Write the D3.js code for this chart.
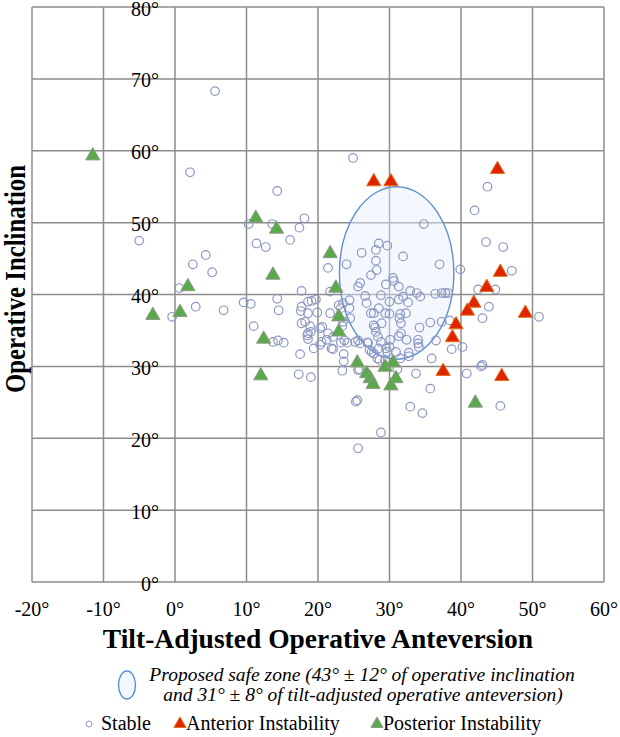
<!DOCTYPE html>
<html>
<head>
<meta charset="utf-8">
<script src="https://cdn.jsdelivr.net/npm/d3@7"></script>
<style>
  body { margin: 0; background: #fff; }
  svg text { font-family: "Liberation Serif", "Times New Roman", serif; fill: #000; }
</style>
</head>
<body>
<div id="chart"></div>
<script>
// [tilt-adjusted anteversion, operative inclination]
const stable = [
  [5.6,68.3],[2.1,57.0],[-5.0,47.5],[24.9,59.0],[2.5,44.2],[0.6,40.9],[-0.4,36.9],[2.9,38.3],
  [14.3,54.4],[18.1,50.6],[17.4,49.3],[13.6,49.8],[10.3,49.8],[16.1,47.6],[11.4,47.1],[12.7,46.6],
  [4.3,45.5],[5.2,43.1],[6.8,37.8],[9.6,38.9],[10.6,38.7],[11.0,35.6],[14.3,39.4],[14.5,37.8],
  [13.7,33.4],[14.4,33.6],[15.2,33.3],[17.7,40.5],[17.7,38.3],[18.6,39.0],[19.1,39.1],[19.7,39.3],
  [17.6,37.7],[18.6,37.4],[19.9,37.5],[17.7,36.0],[18.9,35.6],[18.2,36.2],[18.6,34.6],[19.0,34.8],
  [18.5,34.3],[18.6,33.8],[20.6,35.5],[20.3,35.3],[21.4,34.6],[21.2,33.7],[20.5,33.4],[20.3,33.0],
  [19.4,32.5],[17.5,31.7],[22.1,32.4],[21.9,32.5],[22.1,34.1],[17.3,28.9],[19.0,28.5],[21.7,37.4],
  [21.4,43.7],[24.0,44.2],[21.7,40.4],[23.5,38.8],[23.2,38.1],[24.4,39.2],[24.4,38.1],[24.5,36.7],
  [23.5,36.2],[23.4,35.6],[23.7,33.6],[23.2,33.3],[24.1,33.3],[23.6,31.7],[23.6,30.7],[23.4,29.4],
  [25.6,29.5],[26.1,45.8],[28.5,47.1],[29.7,46.8],[28.1,46.2],[28.1,44.7],[28.2,43.4],[27.4,42.7],
  [30.5,42.3],[30.6,41.9],[29.5,41.4],[25.9,41.6],[25.6,41.1],[31.3,41.1],[31.9,45.3],[34.8,49.8],
  [37.0,44.2],[39.9,43.5],[32.9,40.5],[33.8,40.2],[34.3,39.7],[28.8,39.9],[31.9,39.7],[26.6,39.8],
  [26.8,38.8],[30.0,39.0],[31.3,39.3],[32.6,38.9],[36.4,40.1],[37.3,40.2],[37.8,40.2],[38.2,40.2],
  [28.5,38.1],[27.8,37.4],[27.4,37.4],[29.4,37.4],[31.5,37.3],[32.3,37.4],[31.4,36.7],[28.9,36.0],
  [27.8,35.7],[28.1,34.8],[28.4,34.1],[31.6,36.0],[31.6,34.6],[31.3,34.2],[34.2,35.4],[35.7,36.1],
  [37.3,36.2],[38.4,36.4],[36.5,33.6],[34.0,33.2],[34.0,33.7],[32.4,33.7],[32.7,31.9],[29.5,32.5],
  [29.7,32.0],[28.5,32.5],[27.5,32.0],[27.0,33.3],[25.9,33.2],[25.2,33.4],[25.6,33.6],[26.9,33.3],
  [27.2,32.3],[27.8,31.8],[28.6,30.9],[28.3,31.1],[28.8,33.4],[30.1,33.7],[30.0,32.7],[30.9,32.0],
  [29.4,30.9],[31.5,31.1],[32.7,31.4],[35.9,31.1],[38.7,32.4],[40.2,32.7],[31.1,29.6],[33.7,29.0],
  [40.8,29.0],[42.8,30.0],[43.0,30.2],[35.7,26.9],[32.9,24.4],[34.6,23.5],[45.5,24.5],[25.3,25.1],
  [25.5,25.3],[28.8,20.8],[25.6,18.6],[43.7,55.0],[41.9,51.7],[43.5,47.3],[45.9,46.6],[47.1,43.3],
  [42.4,40.7],[44.8,40.7],[43.9,38.3],[43.0,36.7],[50.9,36.9],[22.9,38.5],[25.8,29.6],[28.0,35.4],
  [30.0,37.3],[34.1,32.7]
];
const anterior = [
  [27.8,55.7],[30.2,55.7],[45.1,57.4],[45.5,43.1],[43.6,41.0],[41.8,38.8],
  [40.9,37.7],[49.0,37.4],[39.3,35.8],[38.8,34.0],[37.5,29.3],[45.7,28.6]
];
const posterior = [
  [-11.5,59.3],[-3.1,37.1],[0.7,37.5],[1.8,41.1],[11.3,50.6],[14.2,49.1],[13.7,42.7],[21.7,45.7],
  [22.5,40.9],[22.9,36.9],[22.9,34.8],[12.4,33.8],[12.0,28.7],[25.5,30.5],[26.8,29.0],[27.3,28.3],
  [27.7,27.5],[29.4,29.9],[30.5,30.5],[30.9,28.3],[30.2,27.3],[42.0,24.9]
];
const xTicks = [-20, -10, 0, 10, 20, 30, 40, 50, 60];
const yTicks = [0, 10, 20, 30, 40, 50, 60, 70, 80];
const safeCenter = [31, 43];   // anteversion, inclination
const safeSpread = [8, 12];

const width = 620, height = 737;
const svg = d3.select("#chart").append("svg").attr("width", width).attr("height", height);

const x = d3.scaleLinear().domain([-20, 60]).range([32, 604]);
const y = d3.scaleLinear().domain([0, 80]).range([582, 7]);
const deg = d => d + "°";

// grid
svg.append("g").selectAll("line").data(xTicks).enter().append("line")
  .attr("x1", d => x(d)).attr("x2", d => x(d)).attr("y1", y(80)).attr("y2", y(0))
  .attr("stroke", "#8c8c8c").attr("stroke-width", 1.5);
svg.append("g").selectAll("line").data(yTicks).enter().append("line")
  .attr("x1", x(-20)).attr("x2", x(60)).attr("y1", d => y(d)).attr("y2", d => y(d))
  .attr("stroke", "#8c8c8c").attr("stroke-width", 1.5);

// safe zone
svg.append("ellipse")
  .attr("cx", x(safeCenter[0])).attr("cy", y(safeCenter[1]))
  .attr("rx", x(safeCenter[0] + safeSpread[0]) - x(safeCenter[0]))
  .attr("ry", y(safeCenter[1] - safeSpread[1]) - y(safeCenter[1]))
  .attr("fill", "#e6f0fc").attr("fill-opacity", 0.45)
  .attr("stroke", "#5b8fd6").attr("stroke-width", 1.4);

// tick labels
svg.append("g").selectAll("text").data(yTicks).enter().append("text")
  .attr("x", x(0) - 16).attr("y", d => y(d) + 8.5)
  .attr("text-anchor", "end").attr("font-size", 20).text(deg);
svg.append("g").selectAll("text").data(xTicks).enter().append("text")
  .attr("x", d => x(d)).attr("y", 616)
  .attr("text-anchor", "middle").attr("font-size", 20).text(deg);

// points
const tri = d3.symbol().type(d3.symbolTriangle).size(88);
svg.append("g").selectAll("circle").data(stable).enter().append("circle")
  .attr("cx", d => x(d[0])).attr("cy", d => y(d[1])).attr("r", 4.3)
  .attr("fill", "none").attr("stroke", "#8b98c2").attr("stroke-width", 1.2);
svg.append("g").selectAll("path").data(posterior).enter().append("path")
  .attr("d", tri).attr("transform", d => `translate(${x(d[0])},${y(d[1])})`)
  .attr("fill", "#5aaa4b").attr("stroke", "#8f9a8c").attr("stroke-width", 1);
svg.append("g").selectAll("path").data(anterior).enter().append("path")
  .attr("d", tri).attr("transform", d => `translate(${x(d[0])},${y(d[1])})`)
  .attr("fill", "#e02400").attr("stroke", "#e0701a").attr("stroke-width", 1);

// titles
svg.append("text").attr("x", 318).attr("y", 648).attr("text-anchor", "middle")
  .attr("font-size", 27.5).attr("font-weight", "bold").text("Tilt-Adjusted Operative Anteversion");
svg.append("text").attr("transform", "translate(25,279) rotate(-90)").attr("text-anchor", "middle")
  .attr("font-size", 29).attr("font-weight", "bold")
  .attr("textLength", 228).attr("lengthAdjust", "spacingAndGlyphs").text("Operative Inclination");

// legend
svg.append("ellipse").attr("cx", 127).attr("cy", 685).attr("rx", 8.5).attr("ry", 14)
  .attr("fill", "#e6f0fc").attr("fill-opacity", 0.45).attr("stroke", "#5b8fd6").attr("stroke-width", 1.4);
svg.append("text").attr("x", 362).attr("y", 681).attr("text-anchor", "middle")
  .attr("font-size", 19.5).attr("font-style", "italic")
  .text("Proposed safe zone (43° ± 12° of operative inclination");
svg.append("text").attr("x", 363).attr("y", 701).attr("text-anchor", "middle")
  .attr("font-size", 19.5).attr("font-style", "italic")
  .text("and 31° ± 8° of tilt-adjusted operative anteversion)");

svg.append("circle").attr("cx", 89).attr("cy", 724).attr("r", 3)
  .attr("fill", "none").attr("stroke", "#8b98c2").attr("stroke-width", 1);
svg.append("text").attr("x", 101).attr("y", 730).attr("font-size", 20).text("Stable");
const legTri = d3.symbol().type(d3.symbolTriangle).size(64);
svg.append("path").attr("d", legTri).attr("transform", "translate(180,724)")
  .attr("fill", "#e02400").attr("stroke", "#e0701a");
svg.append("text").attr("x", 186).attr("y", 730).attr("font-size", 20).text("Anterior Instability");
svg.append("path").attr("d", legTri).attr("transform", "translate(377,724)")
  .attr("fill", "#5aaa4b").attr("stroke", "#8f9a8c");
svg.append("text").attr("x", 383).attr("y", 730).attr("font-size", 20).text("Posterior Instability");
</script>
</body>
</html>
